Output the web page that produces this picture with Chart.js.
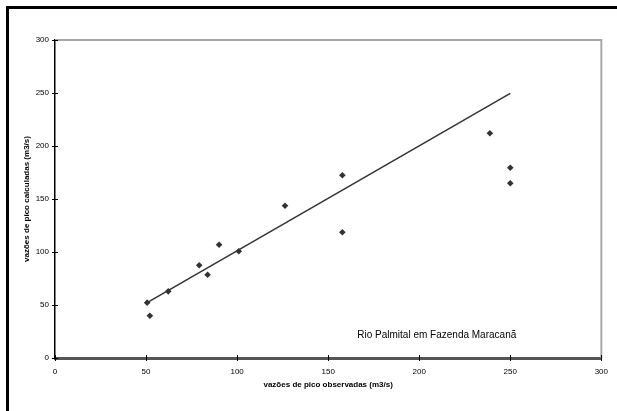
<!DOCTYPE html>
<html>
<head>
<meta charset="utf-8">
<script src="https://cdn.jsdelivr.net/npm/chart.js@4.4.1/dist/chart.umd.min.js"></script>
<style>
  html, body { margin: 0; padding: 0; background: #fff; }
  #wrap { width: 617px; height: 411px; }
</style>
</head>
<body>
<div id="wrap"><canvas id="chart"></canvas></div>
<script>
// peak flows, observed vs calculated (m3/s)
const observed   = [50.6, 52.1, 62.2, 79.2, 83.8, 90.1, 100.9, 126.3, 157.8, 157.8, 238.8, 250, 250];
const calculated = [52.2, 39.9, 62.9, 87.5, 78.6, 106.9, 100.7, 143.7, 172.4, 118.6, 212, 179.5, 164.8];
// fitted line, drawn between its two end points
const trendX = [50.6, 250];
const trendY = [52.2, 249.7];
const axisTicks = [0, 50, 100, 150, 200, 250, 300];
const stationLabel = 'Rio Palmital em Fazenda Maracanã';
const stationAt = { x: 166, y: 21 };

const FONT = '"Liberation Sans", Arial, sans-serif';

const toPoints = (xs, ys) => xs.map((x, i) => ({ x: x, y: ys[i] }));

// outer frame, plot box edges, crossing tick marks and the station note
const decorations = {
  id: 'decorations',
  beforeDraw(chart) {
    const ctx = chart.ctx;
    ctx.save();
    ctx.fillStyle = '#fff';
    ctx.fillRect(0, 0, chart.width, chart.height);
    ctx.fillStyle = '#000';
    ctx.fillRect(6, 6, chart.width, 3);
    ctx.fillRect(6, 6, 3, chart.height);
    ctx.restore();
  },
  beforeDatasetsDraw(chart) {
    const { ctx, chartArea: a } = chart;
    ctx.save();
    ctx.strokeStyle = '#a8a8a8';
    ctx.lineWidth = 2;
    ctx.beginPath();
    ctx.moveTo(a.left, a.top);
    ctx.lineTo(a.right, a.top);
    ctx.lineTo(a.right, a.bottom);
    ctx.stroke();
    ctx.restore();
  },
  afterDraw(chart) {
    const { ctx, chartArea: a, scales } = chart;
    ctx.save();
    ctx.strokeStyle = '#000';
    ctx.lineWidth = 1;
    ctx.beginPath();
    axisTicks.forEach(v => {
      const px = Math.round(scales.x.getPixelForValue(v)) + 0.5;
      ctx.moveTo(px, a.bottom - 3);
      ctx.lineTo(px, a.bottom + 3);
      const py = Math.round(scales.y.getPixelForValue(v)) + 0.5;
      ctx.moveTo(a.left - 3, py);
      ctx.lineTo(a.left + 3, py);
    });
    ctx.stroke();

    ctx.fillStyle = '#000';
    ctx.font = '10px ' + FONT;
    ctx.textAlign = 'left';
    ctx.textBaseline = 'middle';
    ctx.fillText(stationLabel,
      scales.x.getPixelForValue(stationAt.x),
      scales.y.getPixelForValue(stationAt.y));
    ctx.restore();
  }
};

new Chart(document.getElementById('chart'), {
  type: 'scatter',
  data: {
    datasets: [
      {
        data: toPoints(observed, calculated),
        pointStyle: 'rectRot',
        pointRadius: 3.3,
        pointBorderWidth: 0,
        backgroundColor: '#333',
        borderColor: '#333'
      },
      {
        type: 'line',
        data: toPoints(trendX, trendY),
        borderColor: '#333',
        borderWidth: 1.5,
        pointRadius: 0,
        fill: false
      }
    ]
  },
  options: {
    responsive: true,
    maintainAspectRatio: false,
    animation: false,
    layout: { padding: { left: 0, right: 15, top: 40, bottom: 0 } },
    plugins: { legend: { display: false }, tooltip: { enabled: false } },
    scales: {
      x: {
        type: 'linear',
        min: 0, max: 300,
        afterFit: s => { s.height = 53; },
        grid: { display: false, drawTicks: false },
        border: { display: true, color: '#555', width: 3 },
        ticks: { stepSize: 50, color: '#000', padding: 9, font: { family: FONT, size: 8 } },
        title: {
          display: true,
          text: 'vazões de pico observadas (m3/s)',
          color: '#000',
          font: { family: FONT, size: 8, weight: 'bold' },
          padding: { top: 0, bottom: 21 }
        }
      },
      y: {
        type: 'linear',
        min: 0, max: 300,
        afterFit: s => { s.width = 55; },
        grid: { display: false, drawTicks: false },
        border: { display: true, color: '#000', width: 1.5 },
        ticks: { stepSize: 50, color: '#000', padding: 6, font: { family: FONT, size: 8 } },
        title: {
          display: true,
          text: 'vazões de pico calculadas (m3/s)',
          color: '#000',
          font: { family: FONT, size: 8, weight: 'bold' },
          padding: { top: 22, bottom: 0 }
        }
      }
    }
  },
  plugins: [decorations]
});
</script>
</body>
</html>
